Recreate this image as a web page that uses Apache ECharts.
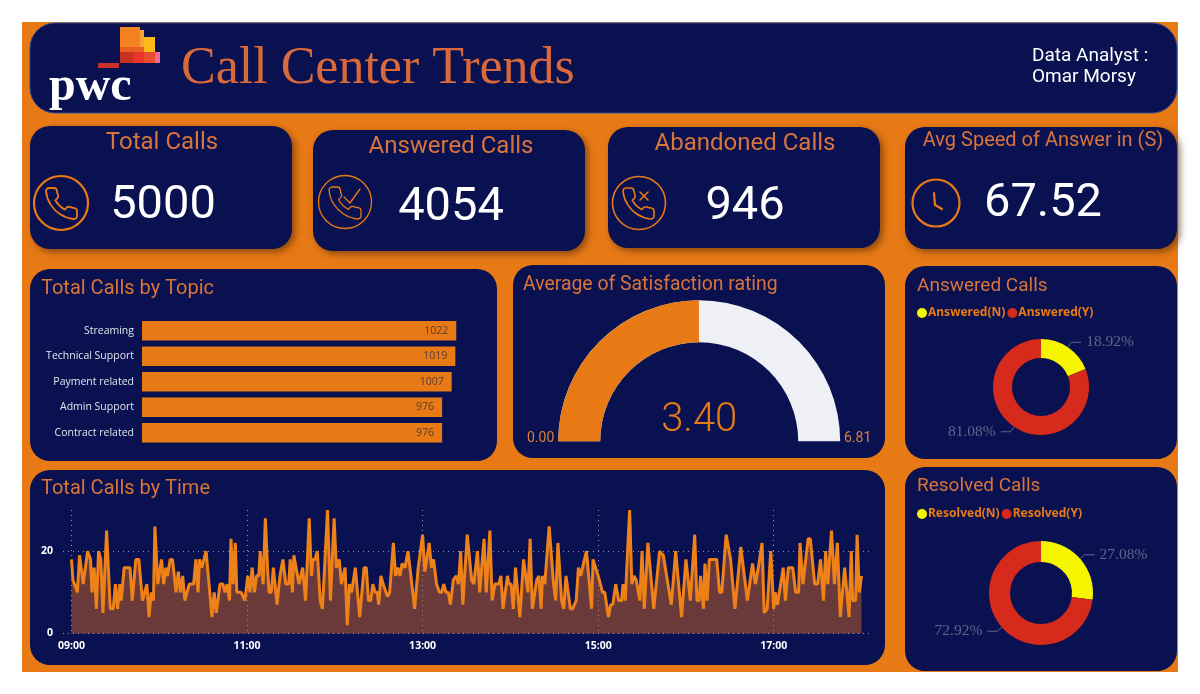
<!DOCTYPE html>
<html>
<head>
<meta charset="utf-8">
<title>Call Center Trends</title>
<script src="https://cdn.jsdelivr.net/npm/echarts@6/dist/echarts.min.js"></script>
<style>
  html, body { margin: 0; padding: 0; background: #fff; }
  #main { width: 1200px; height: 694px; }
</style>
</head>
<body>
<div id="main"></div>
<script>
// bar chart
const topics = ['Streaming', 'Technical Support', 'Payment related', 'Admin Support', 'Contract related']
const topicCalls = [1022, 1019, 1007, 976, 976]

// gauge
const ratingValue = 3.4
const ratingMin = 0
const ratingMax = 6.81

// donuts
const answeredNames = ['Answered(N)', 'Answered(Y)']
const answeredCalls = [946, 4054]
const resolvedNames = ['Resolved(N)', 'Resolved(Y)']
const resolvedCalls = [1354, 3646]

// kpi numbers
const totalCalls = '5000'
const answeredTotal = '4054'
const abandonedTotal = '946'
const avgSpeed = '67.52'

// line chart: minutes after 09:00 and calls at that moment
const callMinutes = [
  0, 1, 4, 5.5, 8, 11, 13, 14, 15.5, 17, 18.5, 20, 21.5, 24, 26.5, 28.5, 30, 31.5, 33, 34,
  36, 40, 41.5, 44, 46, 48.5, 51.5, 53, 54.5, 56, 57, 59, 61.5, 63, 64.5, 65.5, 67.5, 69, 71.5, 73,
  74.5, 76, 77.5, 80.5, 83.5, 85, 86.5, 87.5, 89, 92, 93, 96, 97.5, 99, 101.5, 103.5, 105, 106.5, 108, 109,
  110.5, 112, 113, 116, 118.5, 120.5, 122, 123.5, 125, 126.5, 128, 129, 131, 132.5, 134, 135, 136.5, 138, 140.5, 142.5,
  144.5, 146.5, 148.5, 149.5, 151, 152, 153.5, 155.5, 158, 160, 161, 162.5, 164, 165, 166.5, 168, 170, 171.5, 173, 175,
  177, 178, 179.5, 181, 183, 184.5, 187, 188.5, 190, 191.5, 194, 197, 200, 201.5, 203, 204.5, 206, 207.5, 209, 210,
  211.5, 213, 216, 217.5, 220, 221.5, 223, 224.5, 226, 228, 230, 232, 234.5, 237, 240, 241.5, 244.5, 246, 247.5, 249.5,
  251.5, 253, 254.5, 256, 257.5, 259, 261, 263, 264.5, 266, 267.5, 270.5, 273.5, 275, 277.5, 279, 282, 283.5, 286, 287.5,
  289.5, 292, 293.5, 295, 298, 299, 300.5, 302, 303.5, 306.5, 309, 312, 313.5, 315, 318, 319.5, 321, 322, 323.5, 326.5,
  329.5, 331, 332.5, 335, 336.5, 338, 341, 342.5, 345, 346.5, 348, 352, 355.5, 356.5, 360, 363, 364.5, 367, 368.5, 370,
  372, 374, 376, 377, 378.5, 381.5, 383, 384.5, 386, 388.5, 390, 391.5, 394, 398, 402, 404.5, 405.5, 410, 413, 417,
  420, 423, 426, 427.5, 429, 430, 432, 433, 434.5, 436, 438.5, 441, 443, 444.5, 447.5, 450.5, 453.5, 457.5, 462, 465.5,
  467.5, 469.5, 472, 473.5, 475.5, 478, 480, 481, 482.5, 486.5, 488, 490, 493, 495, 497, 498, 500, 503.5, 505, 508,
  510, 512, 514, 515.5, 517, 519.5, 521.5, 523.5, 525.5, 528.5, 531.5, 533, 534, 536, 537, 538.5, 540
]
const callCounts = [
  18, 13, 10, 19, 12, 20, 18, 10, 16, 6, 20, 18, 5, 25, 6, 6, 12, 6, 12, 8,
  16, 16, 8, 18, 18, 8, 12, 4, 10, 8, 26, 12, 18, 12, 16, 14, 18, 18, 10, 15,
  10, 14, 8, 12, 12, 18, 10, 18, 16, 20, 16, 4, 10, 5, 12, 12, 10, 12, 8, 23,
  12, 22, 10, 10, 8, 14, 10, 16, 10, 14, 14, 20, 12, 28, 16, 10, 10, 16, 7, 14,
  18, 12, 12, 18, 10, 19, 16, 12, 16, 8, 8, 28, 14, 18, 18, 20, 8, 6, 16, 30,
  8, 8, 28, 16, 18, 12, 16, 2, 12, 10, 16, 4, 16, 16, 8, 8, 12, 10, 10, 7,
  14, 12, 9, 10, 22, 14, 16, 14, 17, 16, 20, 14, 6, 16, 24, 15, 22, 16, 18, 12,
  10, 10, 12, 10, 10, 7, 13, 14, 12, 20, 7, 24, 13, 12, 20, 10, 23, 10, 25, 8,
  12, 12, 14, 6, 14, 12, 12, 6, 16, 4, 18, 10, 23, 6, 13, 14, 6, 14, 12, 26,
  12, 8, 22, 8, 6, 14, 6, 6, 8, 16, 14, 20, 6, 18, 14, 10, 10, 4, 7, 7,
  12, 8, 8, 12, 8, 30, 12, 14, 13, 8, 20, 6, 22, 6, 20, 19, 19, 7, 20, 4,
  18, 8, 24, 8, 8, 14, 6, 17, 8, 18, 18, 18, 10, 10, 24, 18, 6, 21, 8, 17,
  12, 16, 22, 5, 6, 20, 6, 10, 7, 16, 8, 16, 16, 10, 10, 22, 12, 23, 23, 12,
  12, 18, 8, 20, 12, 25, 12, 22, 4, 16, 4, 20, 8, 8, 24, 10, 14
]

const navy = '#0a1150'
const orange = '#e87a16'
const titleOrange = '#d9743a'
const titleFont = 'Roboto'

// a plain card
function panel(x, y, w, h, r) {
  return {
    type: 'rect',
    shape: { x: x, y: y, width: w, height: h, r: r },
    style: { fill: navy }
  }
}

// kpi cards have a soft shadow
function shadowPanel(x, y, w, h, r) {
  const el = panel(x, y, w, h, r)
  el.style.shadowBlur = 7
  el.style.shadowOffsetX = 3
  el.style.shadowOffsetY = 3
  el.style.shadowColor = 'rgba(90,45,10,0.65)'
  return el
}

function label(text, x, y, size, color, align, font, weight) {
  return {
    type: 'text',
    z: 3,
    style: {
      text: text,
      x: x,
      y: y,
      fill: color,
      align: align || 'left',
      verticalAlign: 'middle',
      font: (weight || 'normal') + ' ' + size + 'px ' + (font || titleFont)
    }
  }
}

function block(x, y, w, h, color) {
  return { type: 'rect', z: 3, shape: { x: x, y: y, width: w, height: h }, style: { fill: color } }
}

function ring(cx, cy, r, width) {
  return {
    type: 'circle',
    z: 3,
    shape: { cx: cx, cy: cy, r: r },
    style: { fill: 'none', stroke: orange, lineWidth: width }
  }
}

function polyline(points, width) {
  return {
    type: 'polyline',
    z: 3,
    shape: { points: points },
    style: { fill: 'none', stroke: orange, lineWidth: width, lineCap: 'round', lineJoin: 'round' }
  }
}

const handset = 'M22 16.92v3a2 2 0 0 1-2.18 2 19.79 19.79 0 0 1-8.63-3.07 19.5 19.5 0 0 1-6-6 19.79 19.79 0 0 1-3.07-8.67A2 2 0 0 1 4.11 2h3a2 2 0 0 1 2 1.72 12.84 12.84 0 0 0 .7 2.81 2 2 0 0 1-.45 2.11L8.09 9.91a16 16 0 0 0 6 6l1.27-1.27a2 2 0 0 1 2.11-.45 12.84 12.84 0 0 0 2.81.7A2 2 0 0 1 22 16.92z'

// graphic has no path type, so handsets go through a custom series
const handsetIcons = [
  { x: 46, y: 188, size: 31, width: 1.8 },
  { x: 329, y: 187, size: 32, width: 1.3 },
  { x: 623, y: 188, size: 31, width: 1.6 }
]

const graphics = [
  // page frame
  { type: 'rect', shape: { x: 22, y: 22, width: 1156, height: 650 }, style: { fill: orange } },

  // header
  {
    type: 'rect',
    shape: { x: 30, y: 23, width: 1147, height: 90, r: 25 },
    style: { fill: navy, stroke: '#2c4a96', lineWidth: 1 }
  },
  shadowPanel(30, 126, 262, 123, 20),
  shadowPanel(313, 130, 272, 121, 20),
  shadowPanel(608, 127, 272, 121, 20),
  shadowPanel(905, 127, 272, 122, 20),
  panel(30, 269, 467, 192, 20),
  panel(513, 265, 372, 193, 20),
  panel(905, 266, 272, 193, 20),
  panel(30, 470, 855, 195, 20),
  panel(905, 467, 272, 204, 20),

  // logo
  block(120, 27, 20, 20, '#f58220'),
  block(140, 30, 4, 17, '#f7a13b'),
  block(144, 37, 11, 15, '#ffb81c'),
  block(120, 47, 24, 5, '#e8601f'),
  block(120, 52, 13, 11, '#c8321f'),
  block(133, 52, 11, 11, '#e9342a'),
  block(144, 52, 11, 11, '#eb4b2f'),
  block(155, 52, 5, 11, '#ee6a9a'),
  block(98, 63, 21, 5, '#c8322b'),
  label('pwc', 49, 88, 48, '#ffffff', 'left', 'Liberation Serif', 'bold'),

  // header text
  label('Call Center Trends', 181, 69, 52, '#d9693a', 'left', 'Liberation Serif'),
  label('Data Analyst :', 1032, 56, 19, '#ffffff'),
  label('Omar Morsy', 1032, 77, 19, '#ffffff'),

  // kpi cards
  label('Total Calls', 162, 143, 24, titleOrange, 'center'),
  label(totalCalls, 163, 206, 47, '#ffffff', 'center'),
  label('Answered Calls', 451, 147, 24, titleOrange, 'center'),
  label(answeredTotal, 451, 208, 47, '#ffffff', 'center'),
  label('Abandoned Calls', 745, 144, 24, titleOrange, 'center'),
  label(abandonedTotal, 745, 207, 47, '#ffffff', 'center'),
  label('Avg Speed of Answer in (S)', 1043, 141, 20, titleOrange, 'center'),
  label(avgSpeed, 1043, 204, 47, '#ffffff', 'center'),

  // kpi icons
  ring(61, 203, 27, 2.2),
  ring(345, 202, 26.5, 1.3),
  polyline([[344, 197], [350, 203], [360, 189]], 1.3),
  ring(639, 203, 26.5, 1.6),
  polyline([[640, 192], [648, 200]], 1.6),
  polyline([[648, 192], [640, 200]], 1.6),
  ring(936, 203, 23.5, 2.2),
  polyline([[934, 193], [935, 205], [942, 209]], 2.2),

  // panel titles
  label('Total Calls by Topic', 41, 289, 20, titleOrange),
  label('Average of Satisfaction rating', 523, 285, 19.4, titleOrange),
  label('Answered Calls', 917, 286, 19, titleOrange),
  label('Total Calls by Time', 41, 489, 20, titleOrange),
  label('Resolved Calls', 917, 486, 19, titleOrange),

  // gauge ends
  label(ratingMin.toFixed(2), 527, 438, 14, '#d9823a'),
  label(ratingMax.toFixed(2), 844, 438, 14, '#d9823a')
]

const donutLabel = {
  formatter: '{d}%',
  color: '#5f6787',
  fontFamily: 'Liberation Serif',
  fontSize: 15.5
}

const hourLabel = (v) => {
  const h = 9 + v / 60
  return (h < 10 ? '0' : '') + h + ':00'
}

const option = {
  animation: false,
  backgroundColor: '#ffffff',
  graphic: { elements: graphics },
  legend: [
    {
      left: 917,
      top: 307,
      padding: 0,
      itemWidth: 10,
      itemHeight: 10,
      itemGap: 2,
      icon: 'circle',
      data: answeredNames,
      textStyle: { color: orange, fontFamily: 'Noto Sans', fontWeight: 'bold', fontSize: 12, padding: [0, 0, 0, -4] }
    },
    {
      left: 917,
      top: 508,
      padding: 0,
      itemWidth: 10,
      itemHeight: 10,
      itemGap: 2,
      icon: 'circle',
      data: resolvedNames,
      textStyle: { color: orange, fontFamily: 'Noto Sans', fontWeight: 'bold', fontSize: 12, padding: [0, 0, 0, -4] }
    }
  ],
  grid: [
    { left: 142, top: 318, width: 369, height: 127.5 },
    { left: 71.5, top: 510, width: 790, height: 123.5 },
    { left: 63, top: 510, width: 807, height: 123.5 }
  ],
  xAxis: [
    { gridIndex: 0, type: 'value', min: 0, max: 1200, show: false },
    {
      gridIndex: 1,
      type: 'value',
      min: 0,
      max: 540,
      interval: 120,
      axisLine: { show: false },
      axisTick: { show: false },
      axisLabel: {
        color: '#ffffff',
        fontFamily: 'Noto Sans',
        fontWeight: 'bold',
        fontSize: 10.5,
        margin: 7,
        showMaxLabel: false,
        formatter: hourLabel
      },
      splitLine: { showMaxLine: false, lineStyle: { color: '#8d93b8', type: [1, 4], width: 1 } }
    },
    { gridIndex: 2, type: 'value', min: 0, max: 1, show: false }
  ],
  yAxis: [
    {
      gridIndex: 0,
      type: 'category',
      inverse: true,
      data: topics,
      axisLine: { show: false },
      axisTick: { show: false },
      axisLabel: { color: '#e2e4ee', fontFamily: 'Open Sans', fontSize: 10.5, margin: 8 }
    },
    { gridIndex: 1, type: 'value', min: 0, max: 30, show: false },
    {
      gridIndex: 2,
      type: 'value',
      min: 0,
      max: 30,
      interval: 20,
      axisLine: { show: false },
      axisTick: { show: false },
      axisLabel: {
        color: '#ffffff',
        fontFamily: 'Noto Sans',
        fontWeight: 'bold',
        fontSize: 10.5,
        margin: 10,
        showMaxLabel: false
      },
      splitLine: { showMaxLine: false, lineStyle: { color: '#8d93b8', type: [1, 4], width: 1 } }
    }
  ],
  series: [
    {
      type: 'custom',
      coordinateSystem: 'none',
      silent: true,
      data: handsetIcons.map((d, i) => i),
      renderItem: (params) => {
        const d = handsetIcons[params.dataIndex]
        return {
          type: 'path',
          shape: { pathData: handset, layout: 'cover', x: d.x, y: d.y, width: d.size, height: d.size },
          style: { fill: 'none', stroke: orange, lineWidth: d.width, lineJoin: 'round' }
        }
      }
    },
    {
      type: 'bar',
      xAxisIndex: 0,
      yAxisIndex: 0,
      data: topicCalls,
      barWidth: 19.5,
      itemStyle: { color: orange },
      label: {
        show: true,
        position: 'insideRight',
        distance: 8,
        color: '#5a3a30',
        fontFamily: 'Open Sans',
        fontSize: 10.5
      }
    },
    {
      type: 'line',
      xAxisIndex: 1,
      yAxisIndex: 1,
      data: callMinutes.map((m, i) => [m, callCounts[i]]),
      showSymbol: false,
      lineStyle: { color: '#ee8218', width: 3, join: 'bevel' },
      areaStyle: { color: 'rgba(225,108,31,0.45)', opacity: 1 },
      clip: false
    },
    {
      type: 'gauge',
      center: [699.2, 441.3],
      radius: 141,
      startAngle: 180,
      endAngle: 0,
      min: ratingMin,
      max: ratingMax,
      pointer: { show: false },
      axisTick: { show: false },
      splitLine: { show: false },
      axisLabel: { show: false },
      title: { show: false },
      axisLine: { lineStyle: { width: 42, color: [[1, '#eff0f5']] } },
      progress: { show: true, width: 42, itemStyle: { color: orange } },
      detail: {
        offsetCenter: [0, -20],
        formatter: (v) => v.toFixed(2),
        color: orange,
        fontFamily: 'Roboto',
        fontWeight: 300,
        fontSize: 40
      },
      data: [{ value: ratingValue }]
    },
    {
      type: 'pie',
      center: [1041, 387],
      radius: [29, 48],
      startAngle: 90,
      percentPrecision: 2,
      label: donutLabel,
      labelLine: { length: 6, length2: 10, lineStyle: { color: '#5f6787' } },
      data: answeredNames.map((n, i) => ({
        name: n,
        value: answeredCalls[i],
        itemStyle: { color: i === 0 ? '#f5f500' : '#d62a1c' }
      }))
    },
    {
      type: 'pie',
      center: [1041, 593],
      radius: [31, 52],
      startAngle: 90,
      percentPrecision: 2,
      label: donutLabel,
      labelLine: { length: 6, length2: 10, lineStyle: { color: '#5f6787' } },
      data: resolvedNames.map((n, i) => ({
        name: n,
        value: resolvedCalls[i],
        itemStyle: { color: i === 0 ? '#f5f500' : '#d62a1c' }
      }))
    }
  ]
}

const myChart = echarts.init(document.getElementById('main'), null, { renderer: 'canvas' })
myChart.setOption(option)
</script>
</body>
</html>
